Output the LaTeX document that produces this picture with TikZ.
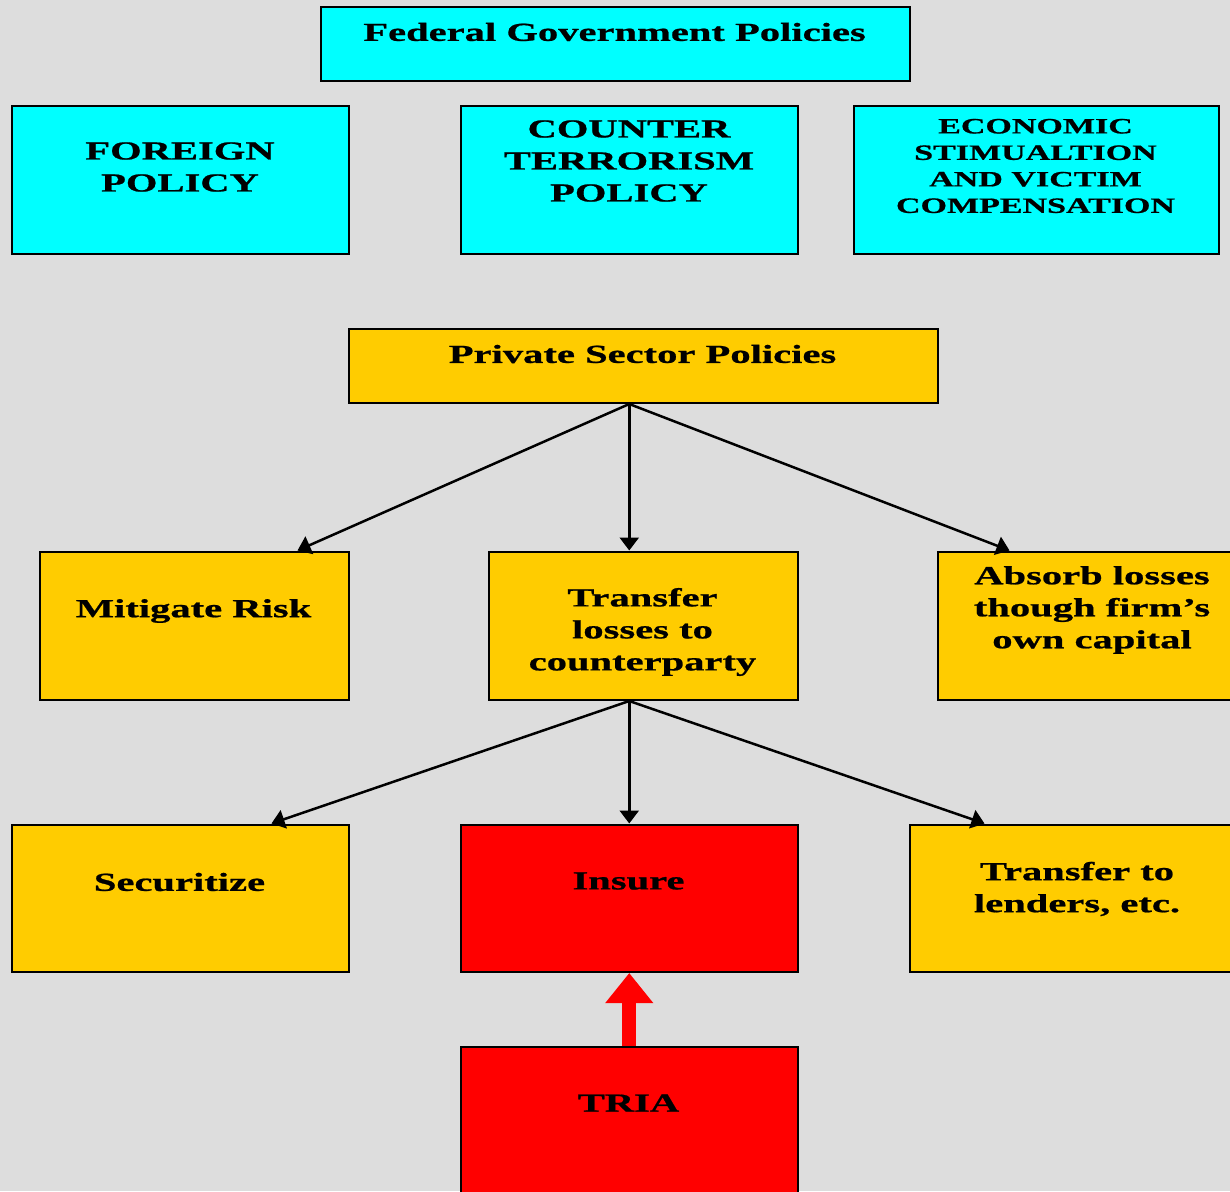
\documentclass[tikz,border=0pt]{standalone}
\usepackage{fontspec}
\setmainfont{Liberation Serif}[FakeStretch=1.56, BoldFeatures={FakeBold=0.8}]
\usetikzlibrary{arrows.meta,calc}
\definecolor{bgc}{HTML}{DDDDDD}
\definecolor{cyanc}{HTML}{00FFFF}
\definecolor{goldc}{HTML}{FFCC00}
\definecolor{redc}{HTML}{FF0000}
\begin{document}
\begin{tikzpicture}[x=1pt,y=-1pt,
  box/.style={draw=black, line width=2.5pt, inner sep=0pt, anchor=north west},
  fed/.style={box, fill=cyanc},
  priv/.style={box, fill=goldc},
  hot/.style={box, fill=redc},
  txt/.style={align=center, inner sep=0pt, font=\bfseries\fontsize{26}{32}\selectfont},
  smalltxt/.style={align=center, inner sep=0pt, font=\bfseries\fontsize{21.8}{26.5}\selectfont},
  conn/.style={line width=2.5pt, -{Triangle[length=13pt,width=19pt]}},
  blockarrow/.style={redc, line width=14pt, -{Triangle[length=30pt,width=46pt]}}
]
\useasboundingbox (0,0) rectangle (1230,1191);
\fill[bgc] (0,0) rectangle (1230,1191);
\clip (0,0) rectangle (1230,1191);

% Federal level
\node[fed, minimum width=589pt, minimum height=74pt] (fedb) at (319.5,5.5) {};
\node[txt] (fedt) at (614.5,32) {Federal Government Policies};
\node[fed, minimum width=337pt, minimum height=148pt] (fp) at (10.5,104.5) {};
\node[txt] (fpt) at (180,167) {FOREIGN\\POLICY};
\node[fed, minimum width=337pt, minimum height=148pt] (ct) at (459.5,104.5) {};
\node[txt] (ctt) at (629,161) {COUNTER\\TERRORISM\\POLICY};
\node[fed, minimum width=365pt, minimum height=148pt] (ec) at (852.5,104.5) {};
\node[smalltxt] (ect) at (1035.5,166) {ECONOMIC\\STIMUALTION\\AND VICTIM\\COMPENSATION};

% Private sector
\node[priv, minimum width=589pt, minimum height=74pt] (pv) at (347.5,327.5) {};
\node[txt] (pvt) at (642.5,354) {Private Sector Policies};
\node[priv, minimum width=309pt, minimum height=148pt] (mit) at (38.5,550.5) {};
\node[txt] (mitt) at (193.5,611) {Mitigate Risk};
\node[priv, minimum width=309pt, minimum height=148pt] (tr) at (487.5,550.5) {};
\node[txt] (trt) at (642.5,632) {Transfer\\losses to\\counterparty};
\node[priv, minimum width=310pt, minimum height=148pt] (ab) at (936.5,550.5) {};
\node[txt] (abt) at (1092,610) {Absorb losses\\though firm’s\\own capital};

\node[priv, minimum width=337pt, minimum height=147pt] (sec) at (10.5,823.5) {};
\node[txt] (sect) at (179.5,882) {Securitize};
\node[hot, minimum width=337pt, minimum height=147pt] (ins) at (459.5,823.5) {};
\node[txt] (inst) at (628.5,881) {Insure};
\node[priv, minimum width=336pt, minimum height=147pt] (len) at (908.5,823.5) {};
\node[txt] (lent) at (1077,889) {Transfer to\\lenders, etc.};

\node[hot, minimum width=337pt, minimum height=160pt] (tria) at (459.5,1045.5) {};
\node[txt] (triat) at (628.5,1103) {TRIA};

% connectors
\coordinate (p0) at (pv.south -| ins.north);
\coordinate (mitT) at ($(mit.north west)+(259,0)$);
\coordinate (abT) at ($(ab.north west)+(73,0)$);
\draw[conn] (p0) -- (mitT);
\draw[conn] (p0) -- (p0 |- tr.north);
\draw[conn] (p0) -- (abT);

\coordinate (p1) at (tr.south -| ins.north);
\coordinate (secT) at ($(sec.north west)+(261,0)$);
\coordinate (lenT) at ($(len.north west)+(76,0)$);
\draw[conn] (p1) -- (secT);
\draw[conn] (p1) -- (ins.north);
\draw[conn] (p1) -- (lenT);

\draw[blockarrow] (tria.north) -- (ins.south);
\end{tikzpicture}
\end{document}
